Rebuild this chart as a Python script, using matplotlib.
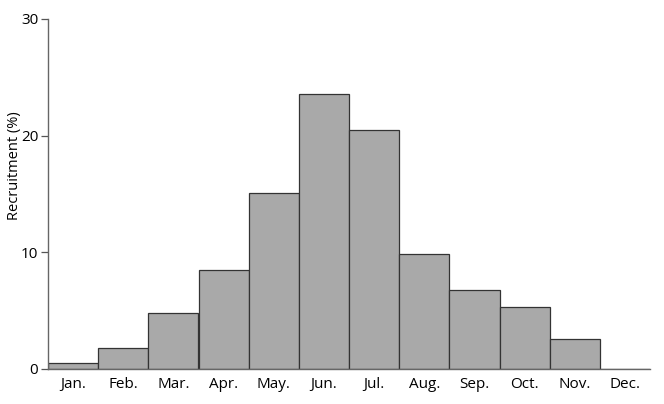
import matplotlib as mpl
mpl.use("Agg"); import matplotlib.pyplot as plt
import numpy as np

MONTHS=["Jan.","Feb.","Mar.","Apr.","May.","Jun.","Jul.","Aug.","Sep.","Oct.","Nov.","Dec."]
RECRUIT=[0.5,1.8,4.8,8.5,15.1,23.6,20.5,9.9,6.8,5.3,2.6,0.0]
YTICKS=[0,10,20,30]

plt.rcParams.update({"font.family":["Open Sans","DejaVu Sans"],"font.size":11})
fig=plt.figure(figsize=(6.64,4.04),dpi=100)
ax=fig.add_axes([48/664,35/404,602/664,350/404])
x=np.arange(len(MONTHS))
ax.bar(x,RECRUIT,width=1.0,align="edge",color="#a9a9a9",edgecolor="#333333",linewidth=0.9)
ax.set_xlim(0,len(MONTHS)); ax.set_ylim(0,30)
ax.set_xticks(x+0.5); ax.set_xticklabels(MONTHS)
ax.tick_params(axis="x",length=0,pad=6)
ax.set_yticks(YTICKS)
ax.tick_params(axis="y",length=5,width=0.9,color="#555555",pad=2)
for s in ["top","right"]: ax.spines[s].set_visible(False)
for s in ["left","bottom"]: ax.spines[s].set_color("#666666"); ax.spines[s].set_linewidth(1.0)
ax.set_ylabel("Recruitment (%)",fontsize=10.5)
ax.yaxis.set_label_coords(-0.044,0.58)
fig.savefig("out.png",dpi=100)
